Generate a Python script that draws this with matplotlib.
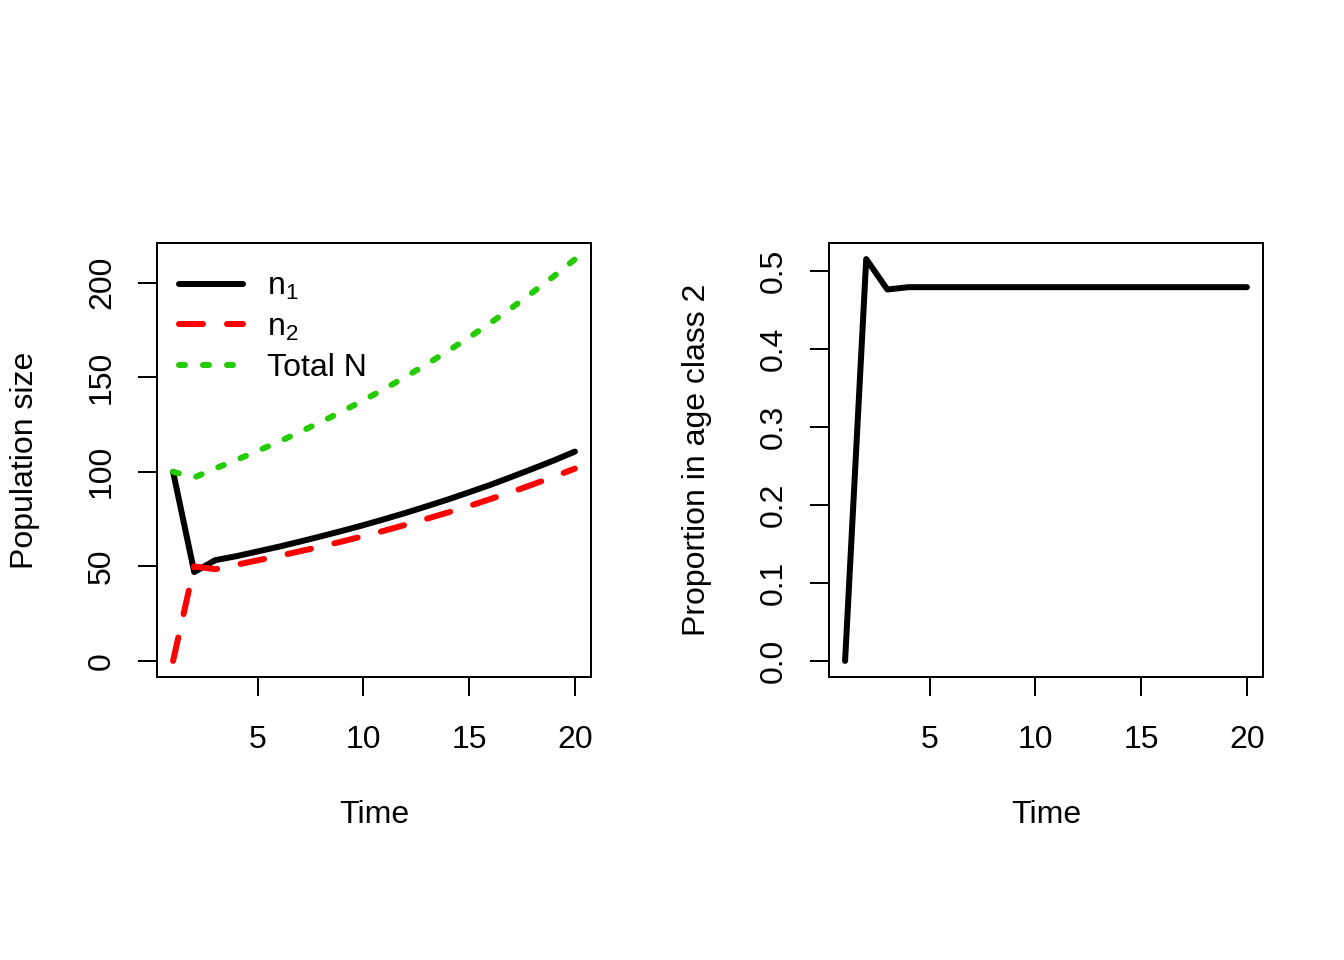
import matplotlib
matplotlib.use("Agg")
import matplotlib.pyplot as plt

plt.rcParams['font.family'] = ['Liberation Sans', 'DejaVu Sans']

time = list(range(1, 21))
n1 = [100.0, 47.0, 53.3, 55.4, 57.9, 60.4, 63.1, 65.9, 68.8, 71.8,
      75.0, 78.3, 81.8, 85.4, 89.2, 93.1, 97.3, 101.6, 106.0, 110.7]
n2 = [0.0, 50.0, 48.5, 50.9, 53.2, 55.5, 58.0, 60.5, 63.2, 66.0,
      68.9, 72.0, 75.2, 78.5, 81.9, 85.6, 89.3, 93.3, 97.4, 101.7]
total = [a + b for a, b in zip(n1, n2)]
prop2 = [0.0, 0.515, 0.476, 0.479, 0.479, 0.479, 0.479, 0.479, 0.479, 0.479,
         0.479, 0.479, 0.479, 0.479, 0.479, 0.479, 0.479, 0.479, 0.479, 0.479]

legend_labels = [r"$\mathregular{n_1}$", r"$\mathregular{n_2}$", "Total N"]

W, H = 1344, 960
fig = plt.figure(figsize=(13.44, 9.6), dpi=100)

lw = 4.32
fs = 23
ax1 = fig.add_axes([157 / W, 1 - 677 / H, 434 / W, 434 / H])
ax2 = fig.add_axes([829 / W, 1 - 677 / H, 434 / W, 434 / H])

ax1.plot(time, n1, color='black', lw=lw, solid_capstyle='round', solid_joinstyle='round', label=legend_labels[0])
ax1.plot(time, n2, color='#FF0000', lw=lw, dashes=(4, 4), dash_capstyle='round', label=legend_labels[1])
ax1.plot(time, total, color='#22CC00', lw=lw, dashes=(1, 3), dash_capstyle='round', label=legend_labels[2])
ax1.set_xlim(0.24, 20.76)
ax1.set_ylim(-8.5, 221.0)
ax1.set_yticks([0, 50, 100, 150, 200])
ax1.set_ylabel("Population size", fontsize=fs)

ax2.plot(time, prop2, color='black', lw=lw, solid_capstyle='round', solid_joinstyle='round')
ax2.set_xlim(0.24, 20.76)
ax2.set_ylim(-0.0206, 0.5356)
ax2.set_yticks([0.0, 0.1, 0.2, 0.3, 0.4, 0.5])
ax2.set_yticklabels(["0.0", "0.1", "0.2", "0.3", "0.4", "0.5"])
ax2.set_ylabel("Proportion in age class 2", fontsize=fs)

for ax in (ax1, ax2):
    ax.set_xticks([5, 10, 15, 20])
    ax.set_xlabel("Time", fontsize=fs)
    for s in ax.spines.values():
        s.set_linewidth(1.44)
    ax.tick_params(axis='both', direction='out', length=13.8, width=1.44,
                   labelsize=fs)
    ax.tick_params(axis='x', pad=21)
    ax.tick_params(axis='y', pad=15)
    for t in ax.get_yticklabels():
        t.set_rotation(90)
        t.set_va('center')
    ax.yaxis.set_label_coords(-0.304, 0.5)
    ax.yaxis.label.set_va('center')
    ax.xaxis.set_label_coords(0.5, -0.318)
    ax.xaxis.label.set_va('center')

leg = ax1.legend(loc='upper left', frameon=False, fontsize=fs,
                 handlelength=2.0, handletextpad=0.73, borderaxespad=0.3,
                 labelspacing=0.33, bbox_to_anchor=(0.0, 0.985))

fig.savefig("out.png", dpi=100)
